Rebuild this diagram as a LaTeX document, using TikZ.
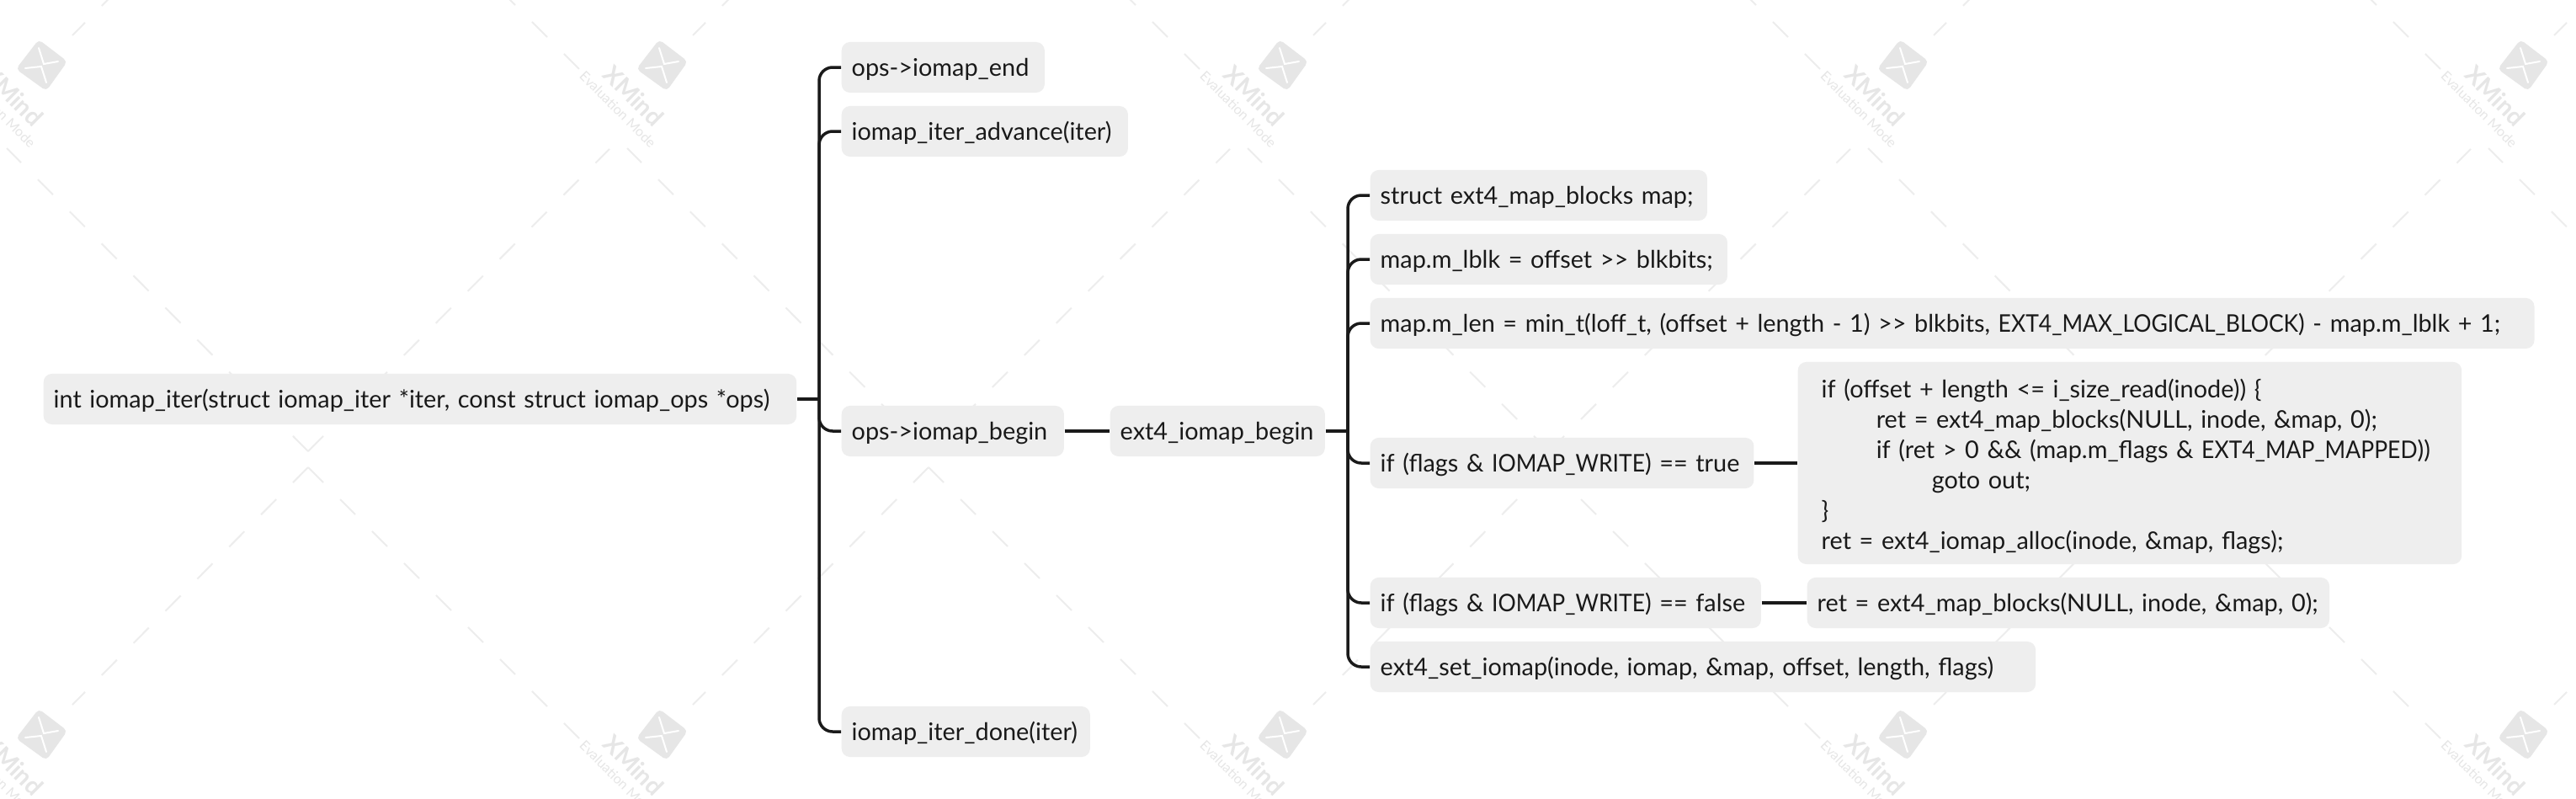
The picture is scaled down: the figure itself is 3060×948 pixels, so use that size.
\documentclass[tikz,border=0pt]{standalone}
\usepackage{fontspec}
\setmainfont{Lato}
\newfontfamily\capsfont[FakeStretch=0.92]{Lato}
\usepackage{tikz}
\definecolor{boxgray}{HTML}{EEEEEE}
\definecolor{linedark}{HTML}{1A1A1A}
\definecolor{markgray}{HTML}{E6E6E6}
\definecolor{dashgray}{HTML}{EDEDED}
\newcommand{\capsword}[1]{{\capsfont #1}}
\tikzset{
topic/.style={fill=boxgray,rounded corners=0.1cm,anchor=west,inner xsep=0.12cm,inner ysep=0pt,minimum height=0.6cm,text width=#1,align=left,text=black!90,font=\fontsize{8.2}{10.25}\selectfont,execute at begin node={\rule[-2.4pt]{0pt}{10.9pt}}},
branch/.style={draw=linedark,line width=0.035cm,rounded corners=0.16cm},
markdash/.style={draw=dashgray,line width=0.02cm,dash pattern=on 0.255cm off 0.282cm},
}
\begin{document}
\begin{tikzpicture}[x=0.01cm,y=-0.01cm]
\useasboundingbox (0,0) rectangle (3060,948);
\clip (0,0) rectangle (3060,948);
\fill[white] (0,0) rectangle (3060,948);
\foreach \i in {-1,...,4} {
\foreach \j in {-1,0,1} {
\begin{scope}[shift={(737*\i,795*\j)}]
\draw[markdash] (366,-240) -- (86,42);
\draw[markdash] (366,-240) -- (690,84);
\draw[markdash] (366,536) -- (724,177);
\draw[markdash] (366,536) -- (8,176);
\fill[markgray,rounded corners=0.05cm] (46,47) -- (80,73) -- (55,108) -- (19,82) -- cycle;
\draw[white,line width=0.02cm,line cap=round] (46,57) -- (52,76) -- (69,73);
\draw[white,line width=0.02cm,line cap=round] (30,81) -- (49,79) -- (55,98);
\node[rotate=-45,text=markgray,font=\bfseries\fontsize{8.2}{9}\selectfont,inner sep=0pt] (brand\i\j) at (16,114) {XMind};
\node[rotate=-45,text=markgray,font=\fontsize{4.6}{5}\selectfont,inner sep=0pt] (mode\i\j) at (-3,130) {Evaluation Mode};
\end{scope}
}
}
\node[topic=8.70cm] (iter) at (51,474) {int iomap\_iter(struct iomap\_iter *iter, const struct iomap\_ops *ops)};
\coordinate (iterbus) at (973,474);
\node[topic=2.17cm] (opsend) at (999,80) {ops->iomap\_end};
\node[topic=3.16cm] (iteradvance) at (999,156) {iomap\_iter\_advance(iter)};
\node[topic=2.40cm] (opsbegin) at (999,512) {ops->iomap\_begin};
\node[topic=2.71cm] (iterdone) at (999,869) {iomap\_iter\_done(iter)};
\node[topic=2.31cm] (extbegin) at (1318,512) {ext4\_iomap\_begin};
\coordinate (extbus) at (1601,512);
\node[topic=3.76cm] (mapdecl) at (1627,232) {struct ext4\_map\_blocks map;};
\node[topic=4.00cm] (maplblk) at (1627,308) {map.m\_lblk = offset >{}> blkbits;};
\node[topic=13.58cm] (maplen) at (1627,384) {map.m\_len = min\_t(loff\_t, (offset + length - 1) >{}> blkbits, \capsword{EXT4\_MAX\_LOGICAL\_BLOCK}) - map.m\_lblk + 1;};
\node[topic=4.315cm] (iftrue) at (1627,550) {if (flags \& \capsword{IOMAP\_WRITE}) == true};
\node[topic=4.40cm] (iffalse) at (1627,716) {if (flags \& \capsword{IOMAP\_WRITE}) == false};
\node[topic=7.66cm] (setmap) at (1627,792) {ext4\_set\_iomap(inode, iomap, \&map, offset, length, flags)};
\node[topic=7.32cm,inner xsep=0.28cm,minimum height=2.4cm] (allocbody) at (2135,550) {if (offset + length <= i\_size\_read(inode)) \{\\
\hspace*{0.65cm}ret = ext4\_map\_blocks(NULL, inode, \&map, 0);\\
\hspace*{0.65cm}if (ret > 0 \&\& (map.m\_flags \& \capsword{EXT4\_MAP\_MAPPED}))\\
\hspace*{1.31cm}goto out;\\
\}\\
ret = ext4\_iomap\_alloc(inode, \&map, flags);};
\node[topic=5.96cm] (mapcall) at (2146,716) {ret = ext4\_map\_blocks(NULL, inode, \&map, 0);};
\draw[branch] (iter) -- (iterbus);
\foreach \c in {opsend,iteradvance,opsbegin,iterdone} {
\draw[branch] (iterbus) |- (\c.west);
}
\draw[branch] (opsbegin) -- (extbegin);
\draw[branch] (extbegin) -- (extbus);
\foreach \c in {mapdecl,maplblk,maplen,iftrue,iffalse,setmap} {
\draw[branch] (extbus) |- (\c.west);
}
\draw[branch] (iftrue) -- (allocbody);
\draw[branch] (iffalse) -- (mapcall);
\end{tikzpicture}
\end{document}
